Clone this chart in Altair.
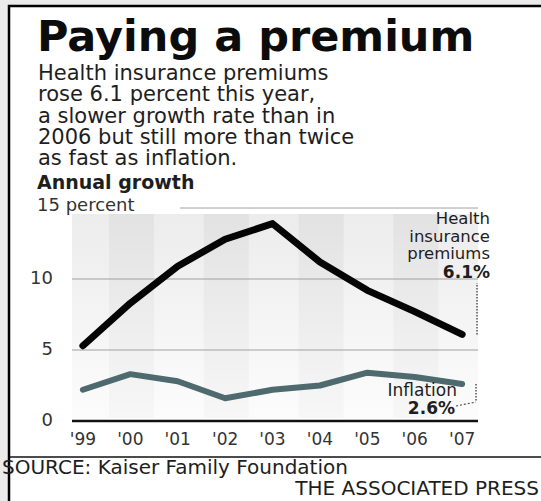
import altair as alt
import pandas as pd

# ---------------- data ----------------
YEARS = [1999, 2000, 2001, 2002, 2003, 2004, 2005, 2006, 2007]
YEAR_LABELS = ["'99", "'00", "'01", "'02", "'03", "'04", "'05", "'06", "'07"]
HEALTH = [5.3, 8.3, 10.9, 12.8, 13.9, 11.2, 9.2, 7.7, 6.1]
INFLATION = [2.2, 3.3, 2.8, 1.6, 2.2, 2.5, 3.4, 3.1, 2.6]
Y_TICKS = [0, 5, 10, 15]
Y_TICK_LABELS = ["0", "5", "10", "15 percent"]
BAND_YEARS = [2000, 2002, 2004, 2006]

TITLE = "Paying a premium"
SUBTITLE = [
    "Health insurance premiums",
    "rose 6.1 percent this year,",
    "a slower growth rate than in",
    "2006 but still more than twice",
    "as fast as inflation.",
]
CHART_LABEL = "Annual growth"
HEALTH_LABEL = ["Health", "insurance", "premiums"]
INFL_LABEL = "Inflation"
SOURCE = "SOURCE: Kaiser Family Foundation"
CREDIT = "THE ASSOCIATED PRESS"

# ---------------- layout ----------------
W, H = 406, 213
PL, PT = 72, 208
FONT = "DejaVu Sans"
TXT = "#1e1e1e"

xs = alt.Scale(domain=[1998.77, 2007.335], nice=False, zero=False)
ys = alt.Scale(domain=[0, 15], nice=False, zero=False)

one = pd.DataFrame({"k": [0]})
series = pd.DataFrame({"year": YEARS, "label": YEAR_LABELS,
                       "health": HEALTH, "inflation": INFLATION})
ticks = pd.DataFrame({"v": Y_TICKS, "label": Y_TICK_LABELS})
last = pd.DataFrame({"h": [HEALTH[-1]], "i": [INFLATION[-1]],
                     "ht": [f"{HEALTH[-1]}%"], "it": [f"{INFLATION[-1]}%"]})

def grad(c0, c1):
    return alt.Gradient(gradient="linear",
                        stops=[alt.GradientStop(color=c0, offset=0),
                               alt.GradientStop(color=c1, offset=1)],
                        x1=0, x2=0, y1=0, y2=1)

frame = alt.Chart(one).mark_rect(fill="white", stroke="black", strokeWidth=2.5).encode(
    x=alt.value(9 - PL), x2=alt.value(541 - PL + 10),
    y=alt.value(6 - PT), y2=alt.value(501 - PT + 10))

sep = alt.Chart(one).mark_rule(color="#111", strokeWidth=1.5).encode(
    x=alt.value(9 - PL), x2=alt.value(541 - PL), y=alt.value(457 - PT))

title = alt.Chart(one).mark_text(text=TITLE, font=FONT, fontSize=43, fontWeight="bold",
                                 align="left", baseline="alphabetic", color="#0c0c0c").encode(
    x=alt.value(37 - PL), y=alt.value(51 - PT))

subtitle = alt.Chart(one).mark_text(text=SUBTITLE, font=FONT, fontSize=21, lineHeight=21.3,
                                    align="left", baseline="alphabetic", color=TXT).encode(
    x=alt.value(38 - PL), y=alt.value(80 - PT))

label = alt.Chart(one).mark_text(text=CHART_LABEL, font=FONT, fontSize=19, fontWeight="bold",
                                 align="left", baseline="alphabetic", color=TXT).encode(
    x=alt.value(37 - PL), y=alt.value(189 - PT))

base_bg = alt.Chart(one).mark_rect(color=grad("#ececec", "#fcfcfc")).encode(
    x=alt.value(0), x2=alt.value(W), y=alt.value(6), y2=alt.value(H - 3))

bands = alt.Chart(pd.DataFrame({"year": BAND_YEARS})).transform_calculate(
    x0="datum.year - 0.45", x1="datum.year + 0.5").mark_rect(
    color=grad("#e2e2e2", "#f7f7f7")).encode(
    x=alt.X("x0:Q", scale=xs, axis=None), x2="x1:Q",
    y=alt.value(6), y2=alt.value(H - 3))

grid = alt.Chart(ticks).transform_filter("datum.v > 0 && datum.v < 15").mark_rule(
    color="#a0a0a0", strokeWidth=1).encode(
    y=alt.Y("v:Q", scale=ys, axis=None), x=alt.value(0), x2=alt.value(W))

grid_top = alt.Chart(ticks).transform_filter("datum.v == 15").mark_rule(
    color="#a0a0a0", strokeWidth=1).encode(
    y=alt.Y("v:Q", scale=ys, axis=None), x=alt.value(108), x2=alt.value(W))

zero = alt.Chart(ticks).transform_filter("datum.v == 0").mark_rule(
    color="#111", strokeWidth=2.5).encode(
    y=alt.Y("v:Q", scale=ys, axis=None), x=alt.value(0), x2=alt.value(W))

ylab_num = alt.Chart(ticks).transform_filter("datum.v < 15").mark_text(
    font=FONT, fontSize=18, align="right", baseline="middle", color="#333").encode(
    y=alt.Y("v:Q", scale=ys, axis=None), x=alt.value(53 - PL), text="label:N")

ylab_top = alt.Chart(ticks).transform_filter("datum.v == 15").mark_text(
    font=FONT, fontSize=18, align="left", baseline="middle", color="#333", dy=-2).encode(
    y=alt.Y("v:Q", scale=ys, axis=None), x=alt.value(37 - PL), text="label:N")

xlab = alt.Chart(series).mark_text(font=FONT, fontSize=17, baseline="middle", color="#333").encode(
    x=alt.X("year:Q", scale=xs, axis=None), y=alt.value(440 - PT), text="label:N")

health_line = alt.Chart(series).mark_line(color="#050505", strokeWidth=7,
                                          strokeJoin="round", strokeCap="round").encode(
    x=alt.X("year:Q", scale=xs, axis=None), y=alt.Y("health:Q", scale=ys, axis=None))

infl_line = alt.Chart(series).mark_line(color="#4e6a6e", strokeWidth=6,
                                        strokeJoin="round", strokeCap="round").encode(
    x=alt.X("year:Q", scale=xs, axis=None), y=alt.Y("inflation:Q", scale=ys, axis=None))

health_lbl = alt.Chart(one).mark_text(text=HEALTH_LABEL, font=FONT, fontSize=16.5, lineHeight=17.7,
                                      align="right", baseline="alphabetic", color=TXT).encode(
    x=alt.value(490 - PL), y=alt.value(224 - PT))

health_val = alt.Chart(last).mark_text(font=FONT, fontSize=17, fontWeight="bold",
                                       align="right", baseline="alphabetic", color=TXT).encode(
    x=alt.value(490 - PL), y=alt.value(278 - PT), text="ht:N")

health_lead = alt.Chart(last).mark_rule(color="#555", strokeWidth=1.5, strokeDash=[1.5, 1.5]).encode(
    x=alt.value(477 - PL), y=alt.Y("h:Q", scale=ys, axis=None), y2=alt.value(283 - PT))

infl_lbl = alt.Chart(one).mark_text(text=INFL_LABEL, font=FONT, fontSize=17,
                                    align="right", baseline="alphabetic", color=TXT).encode(
    x=alt.value(457 - PL), y=alt.value(396 - PT))

infl_val = alt.Chart(last).mark_text(font=FONT, fontSize=17, fontWeight="bold",
                                     align="right", baseline="alphabetic", color=TXT).encode(
    x=alt.value(455 - PL), y=alt.value(414 - PT), text="it:N")

infl_lead_v = alt.Chart(last).mark_rule(color="#555", strokeWidth=1.5, strokeDash=[1.5, 1.5]).encode(
    x=alt.value(476 - PL), y=alt.Y("i:Q", scale=ys, axis=None), y2=alt.value(402 - PT))

infl_lead_d = alt.Chart(one).mark_rule(color="#555", strokeWidth=1.2, strokeDash=[2, 2]).encode(
    x=alt.value(456 - PL), y=alt.value(406 - PT), x2=alt.value(476 - PL), y2=alt.value(402 - PT))

source = alt.Chart(one).mark_text(text=SOURCE, font=FONT, fontSize=20,
                                  align="left", baseline="alphabetic", color=TXT).encode(
    x=alt.value(2 - PL), y=alt.value(474 - PT))

credit = alt.Chart(one).mark_text(text=CREDIT, font=FONT, fontSize=20,
                                  align="right", baseline="alphabetic", color=TXT).encode(
    x=alt.value(539 - PL), y=alt.value(495 - PT))

chart = alt.layer(
    frame, sep, title, subtitle, label,
    base_bg, bands, grid, grid_top, zero,
    ylab_num, ylab_top, xlab,
    infl_line, health_line,
    health_lbl, health_val, health_lead,
    infl_lbl, infl_val, infl_lead_v, infl_lead_d,
    source, credit,
).properties(
    width=W, height=H,
    background="#ebebeb",
    padding={"left": PL, "top": PT, "right": 541 - PL - W, "bottom": 501 - PT - H},
    autosize=alt.AutoSizeParams(type="none"),
).configure_view(strokeWidth=0)

chart.save("out.html", embed_options={"renderer": "svg", "actions": False})
